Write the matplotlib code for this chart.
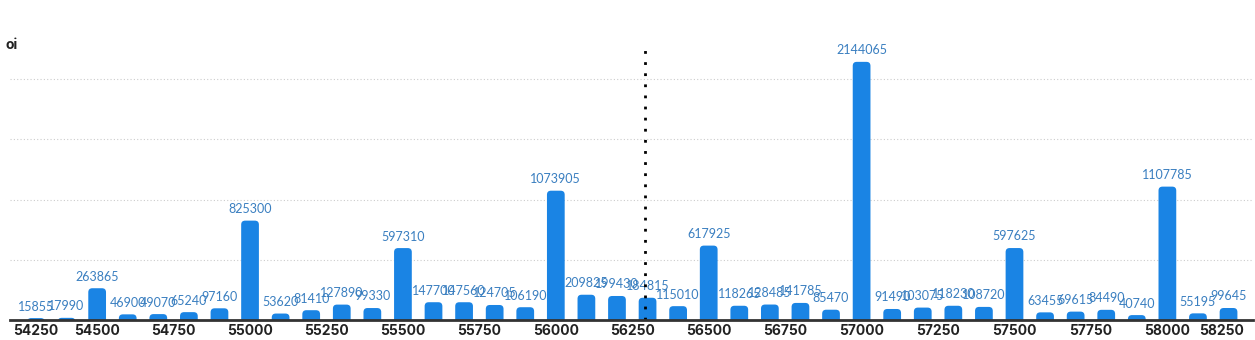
import numpy as np
from matplotlib import pyplot as plt
from matplotlib.patches import FancyBboxPatch
import matplotlib.transforms as mtransforms


# strikes, one bar every 100 points
strikes = list(range(54300, 58201, 100))

oi = [15855, 17990, 263865, 46900, 49070, 65240, 97160, 825300, 53620, 81410,
      127890, 99330, 597310, 147700, 147560, 124705, 106190, 1073905, 209825, 199430,
      184815, 115010, 617925, 118265, 128485, 141785, 85470, 2144065, 91490, 103075,
      118230, 108720, 597625, 63455, 69615, 84490, 40740, 1107785, 55195, 99645]

tick_vals = list(range(54250, 58251, 250))
tick_labels = [str(t) for t in tick_vals]

spot = 56293


def _main():
    plt.rcParams['font.family'] = ['Lato', 'DejaVu Sans']

    fig = plt.figure(figsize=(12.55, 3.4), dpi=100)
    ax = fig.add_axes([10 / 1255, 20 / 340, 1243 / 1255, 301 / 340])

    x0, x1 = 54215, 58280
    y0, y1 = 0, 2.5e6
    ax.set_xlim(x0, x1)
    ax.set_ylim(y0, y1)

    # units per pixel, used to keep the corners round
    ux = (x1 - x0) / 1243
    uy = (y1 - y0) / 301
    aspect = uy / ux

    bar_color = '#1a84e4'
    w = 58
    r = 4 * ux
    for x, v in zip(strikes, oi):
        p = FancyBboxPatch((x - w / 2, -5 * uy), w, v + 5 * uy,
                           boxstyle='round,pad=0,rounding_size=%f' % r,
                           mutation_aspect=aspect, facecolor=bar_color,
                           edgecolor='none', zorder=3)
        ax.add_patch(p)

    # value labels over every bar
    for x, v in zip(strikes, oi):
        ax.annotate(str(v), (x, v), xytext=(0, 4), textcoords='offset points',
                    ha='center', va='bottom', fontsize=9, color='#3a7fc0', zorder=4)

    # spot marker
    ax.vlines(spot, 0, 2.24e6, colors='black', linewidth=2,
              linestyles=(0, (1, 3)), zorder=5)

    ax.set_yticks([5e5, 1e6, 1.5e6, 2e6])
    ax.yaxis.grid(True, linestyle=(0, (1, 2)), color='#cccccc', linewidth=0.8)
    ax.tick_params(axis='y', left=False, labelleft=False)

    ax.set_xticks(tick_vals)
    ax.set_xticklabels(tick_labels, fontsize=10, fontweight='bold', color='#222222',
                       family=['Inter', 'DejaVu Sans'])
    ax.tick_params(axis='x', length=0, pad=3)
    labels = ax.get_xticklabels()
    labels[0].set_ha('left')
    labels[0].set_transform(labels[0].get_transform() +
                            mtransforms.ScaledTranslation(-8 / 100, 0, fig.dpi_scale_trans))
    labels[-1].set_ha('right')

    for side in ['top', 'right', 'left']:
        ax.spines[side].set_visible(False)
    ax.spines['bottom'].set_color('#333333')
    ax.spines['bottom'].set_linewidth(2)
    ax.spines['bottom'].set_zorder(6)

    fig.text(6 / 1255, 1 - 45 / 340, 'oi', fontsize=10, fontweight='bold',
             color='#222222', va='center', ha='left', family=['Inter', 'DejaVu Sans'])

    fig.savefig('out.png', dpi=100)


if __name__ == '__main__':
    _main()
